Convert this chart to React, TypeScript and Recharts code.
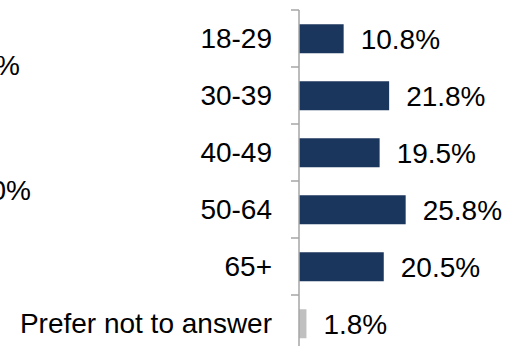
import React from 'react';
import { BarChart, Bar, XAxis, YAxis, Cell, LabelList } from 'recharts';

const categories = ['18-29', '30-39', '40-49', '50-64', '65+', 'Prefer not to answer'];
const values = [10.8, 21.8, 19.5, 25.8, 20.5, 1.8];
const leftFragments = ['%', '0%'];

const data = categories.map((c, i) => ({ name: c, value: values[i] }));

const FONT = "Arial, 'Liberation Sans', sans-serif";
const NAVY = '#1B365D';
const GRAY_BAR = '#C0C0C0';
const AXIS = '#A6A6A6';
const W = 514;
const H = 352;
const TOP = 10;
const BAND = (H - TOP) / categories.length;

const Tick = (props: any) => {
  const { x, y, payload } = props;
  return (
    <g>
      <line x1={x - 8} x2={x} y1={y - BAND / 2} y2={y - BAND / 2} stroke={AXIS} strokeWidth={1.5} />
      <text x={x - 27} y={y} textAnchor="end" dominantBaseline="central" fontSize={28} fill="#000" fontFamily={FONT}>
        {payload.value}
      </text>
    </g>
  );
};

export default function App() {
  return (
    <div style={{ position: 'absolute', left: 0, top: 0, width: 514, height: 346, overflow: 'hidden', background: '#fff' }}>
      <BarChart
        width={W}
        height={H}
        data={data}
        layout="vertical"
        margin={{ top: TOP, right: 0, bottom: 0, left: 0 }}
        barCategoryGap="25%"
      >
        <XAxis type="number" hide domain={[0, 52]} />
        <YAxis
          type="category"
          dataKey="name"
          width={299}
          tickLine={false}
          tickSize={0}
          tickMargin={0}
          axisLine={{ stroke: AXIS, strokeWidth: 1.5 }}
          tick={<Tick />}
          interval={0}
        />
        <Bar dataKey="value" isAnimationActive={false}>
          {data.map((d, i) => (
            <Cell key={i} fill={d.name === 'Prefer not to answer' ? GRAY_BAR : NAVY} />
          ))}
          <LabelList
            dataKey="value"
            position="right"
            offset={17}
            formatter={(v: any) => `${Number(v).toFixed(1)}%`}
            style={{ fontSize: 28, fill: '#000', fontFamily: FONT }}
          />
        </Bar>
      </BarChart>
      <svg width={514} height={346} style={{ position: 'absolute', left: 0, top: 0, pointerEvents: 'none' }}>
        <text x={20} y={65} textAnchor="end" dominantBaseline="central" fontSize={28} fill="#000" fontFamily={FONT}>
          {leftFragments[0]}
        </text>
        <text x={31} y={190} textAnchor="end" dominantBaseline="central" fontSize={28} fill="#000" fontFamily={FONT}>
          {leftFragments[1]}
        </text>
      </svg>
    </div>
  );
}
